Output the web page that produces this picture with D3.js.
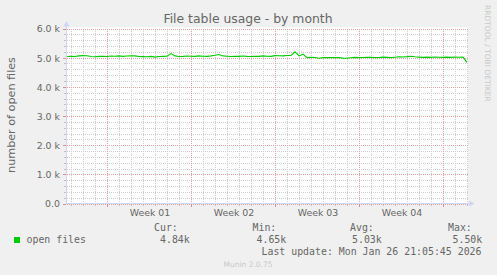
<!DOCTYPE html>
<html>
<head>
<meta charset="utf-8">
<script src="https://cdn.jsdelivr.net/npm/d3@7"></script>
<style>
  html, body { margin: 0; padding: 0; background: #F0F0F0; }
  svg { display: block; }
</style>
</head>
<body>
<svg id="chart" width="497" height="275"></svg>
<script>
// ---------- data ----------
const title = "File table usage - by month";
const yAxisTitle = "number of open files";
const seriesName = "open files";
// samples every 8 hours from the graph start (values = open files)
const sampleStepHours = 8;
const openFiles = [
  5040, 5045, 5040, 5060, 5070, 5065, 5040, 5030, 5045, 5050,
  5040, 5055, 5050, 5060, 5045, 5055, 5065, 5060, 5040, 5035,
  5030, 5045, 5020, 5040, 5045, 5050, 5140, 5060, 5040, 5045,
  5055, 5050, 5045, 5060, 5050, 5045, 5060, 5080, 5110, 5060,
  5050, 5040, 5050, 5045, 5055, 5045, 5040, 5050, 5045, 5060,
  5050, 5045, 5070, 5065, 5060, 5075, 5080, 5200, 5060, 5120,
  5000, 5010, 5005, 4980, 5000, 5005, 5000, 5000, 5005, 4985,
  4980, 4995, 5010, 5000, 5005, 5015, 5010, 5000, 5005, 5020,
  5010, 5000, 5015, 5030, 5025, 5035, 5050, 5030, 5020, 5010,
  5020, 5010, 5025, 5015, 5010, 5020, 5010, 5025, 5015, 5020,
  4840
];
const yTickValues = [0, 1000, 2000, 3000, 4000, 5000, 6000];
const yTickLabels = ["0.0", "1.0 k", "2.0 k", "3.0 k", "4.0 k", "5.0 k", "6.0 k"];
const yMinorStep = 200;
// time axis in days from the graph start
const graphSpanDays = 33.417;
const firstMidnightDay = 0.375;
const weekStartDays = [3.375, 10.375, 17.375, 24.375, 31.375];
const weekLabels = ["Week 01", "Week 02", "Week 03", "Week 04"];
const legendStats = { cur: "4.84k", min: "4.65k", avg: "5.03k", max: "5.50k" };
const lastUpdate = "Last update: Mon Jan 26 21:05:45 2026";
const watermark = "RRDTOOL / TOBI OETIKER";
const footer = "Munin 2.0.75";

(function () {
// ---------- layout ----------
const svg = d3.select("#chart");
const pLeft = 67, pRight = 468, pTop = 28.5, pBottom = 203.5;
const FONT = "#666666";
const AXIS = "#CFD6F8";
const sans = "'DejaVu Sans', sans-serif";
const mono = "'DejaVu Sans Mono', monospace";

const x = d3.scaleLinear().domain([0, graphSpanDays]).range([pLeft, pRight]);
const y = d3.scaleLinear().domain([0, 6000]).range([pBottom, pTop]);

// canvas
svg.append("rect").attr("x", pLeft).attr("y", 27.5).attr("width", pRight - pLeft).attr("height", pBottom - 27.5)
  .attr("fill", "#FFFFFF");

const grid = svg.append("g").attr("shape-rendering", "crispEdges");
const yPix = d => Math.round(y(d)) + 0.5;
const xPix = d => Math.floor(x(d)) + 0.5;

// minor horizontal grid
const yMinor = d3.range(0, 6000 + 1, yMinorStep).filter(v => v % 1000 !== 0);
grid.selectAll(".hmin").data(yMinor).join("line")
  .attr("x1", pLeft).attr("x2", pRight)
  .attr("y1", yPix).attr("y2", yPix)
  .attr("stroke", "#CFCFCF").attr("stroke-dasharray", "1,1");
// minor vertical grid (days)
const dayLines = d3.range(firstMidnightDay, graphSpanDays, 1).filter(d => !weekStartDays.includes(d));
grid.selectAll(".vmin").data(dayLines).join("line")
  .attr("x1", xPix).attr("x2", xPix)
  .attr("y1", pTop).attr("y2", pBottom)
  .attr("stroke", "#CFCFCF").attr("stroke-dasharray", "1,1");
// minor ticks
grid.selectAll(".vmint").data(dayLines).join("line")
  .attr("x1", xPix).attr("x2", xPix)
  .attr("y1", pBottom).attr("y2", pBottom + 2)
  .attr("stroke", "#BFBFBF");
grid.selectAll(".hmint").data(yMinor).join("line")
  .attr("x1", pLeft - 3).attr("x2", pLeft - 1)
  .attr("y1", yPix).attr("y2", yPix)
  .attr("stroke", "#BFBFBF");

// major grid
grid.selectAll(".hmaj").data(yTickValues).join("line")
  .attr("x1", pLeft).attr("x2", pRight)
  .attr("y1", yPix).attr("y2", yPix)
  .attr("stroke", "#E7A3A3").attr("stroke-dasharray", "1,1");
grid.selectAll(".vmaj").data(weekStartDays).join("line")
  .attr("x1", xPix).attr("x2", xPix)
  .attr("y1", pTop).attr("y2", pBottom)
  .attr("stroke", "#E7A3A3").attr("stroke-dasharray", "1,1");
grid.selectAll(".vmajt").data(weekStartDays).join("line")
  .attr("x1", xPix).attr("x2", xPix)
  .attr("y1", pBottom).attr("y2", pBottom + 3)
  .attr("stroke", "#E08A8A");
grid.selectAll(".hmajt").data(yTickValues).join("line")
  .attr("x1", pLeft - 4).attr("x2", pLeft - 1)
  .attr("y1", yPix).attr("y2", yPix)
  .attr("stroke", "#E08A8A");

// axes lines + arrows
svg.append("line").attr("x1", pLeft - 0.5).attr("x2", pLeft - 0.5).attr("y1", pBottom + 0.5).attr("y2", 25)
  .attr("stroke", AXIS).attr("shape-rendering", "crispEdges");
svg.append("line").attr("x1", pLeft - 1).attr("x2", 470).attr("y1", pBottom).attr("y2", pBottom)
  .attr("stroke", AXIS).attr("shape-rendering", "crispEdges");
svg.append("path").attr("d", `M${pLeft - 3.5},26.5 L${pLeft - 0.5},21 L${pLeft + 2.5},26.5 Z`).attr("fill", AXIS);
svg.append("path").attr("d", `M469,${pBottom - 3} L474.5,${pBottom} L469,${pBottom + 3} Z`).attr("fill", AXIS);

// y tick labels (via d3 axis)
const yAxis = d3.axisLeft(y).tickValues(yTickValues)
  .tickFormat((d, i) => yTickLabels[i]).tickSize(0).tickPadding(0);
const gy = svg.append("g").attr("transform", `translate(${pLeft - 7},0)`).call(yAxis);
gy.select(".domain").remove();
gy.selectAll("text").attr("font-family", sans).attr("font-size", "9.4px").attr("fill", FONT)
  .attr("dy", "0.36em");

// x week labels (via d3 axis)
const weekMid = weekLabels.map((w, i) => (weekStartDays[i] + weekStartDays[i + 1]) / 2);
const xAxis = d3.axisBottom(x).tickValues(weekMid).tickFormat((d, i) => weekLabels[i]).tickSize(0).tickPadding(0);
const gx = svg.append("g").attr("transform", `translate(0,${pBottom + 12.5})`).call(xAxis);
gx.select(".domain").remove();
gx.selectAll("text").attr("font-family", sans).attr("font-size", "9.4px").attr("fill", FONT).attr("dy", "0");

// series line
const hourToDay = h => h / 24;
const line = d3.line()
  .x((d, i) => x(hourToDay(i * sampleStepHours)))
  .y(d => y(d));
svg.append("path").datum(openFiles).attr("d", line)
  .attr("fill", "none").attr("stroke", "#00CC00").attr("stroke-width", 1.1);

// title
svg.append("text").attr("x", 248).attr("y", 22.5).attr("text-anchor", "middle")
  .attr("font-family", sans).attr("font-size", "12.4px").attr("fill", FONT).text(title);

// y axis title
svg.append("text").attr("transform", "translate(15,115) rotate(-90)").attr("text-anchor", "middle")
  .attr("font-family", sans).attr("font-size", "11.2px").attr("fill", FONT).text(yAxisTitle);

// watermark
svg.append("text").attr("transform", "translate(485,5) rotate(90)").attr("text-anchor", "start")
  .attr("font-family", sans).attr("font-size", "7.5px").attr("fill", "#C8C8C8").text(watermark);

// legend
svg.append("rect").attr("x", 14).attr("y", 237).attr("width", 6).attr("height", 6).attr("fill", "#00CC00");
const lg = svg.append("g").attr("font-family", mono).attr("font-size", "9.9px").attr("fill", FONT);
lg.append("text").attr("x", 26.5).attr("y", 243).text(seriesName);
lg.append("text").attr("x", 154).attr("y", 231).text("Cur:");
lg.append("text").attr("x", 160).attr("y", 243).text(legendStats.cur);
lg.append("text").attr("x", 252.5).attr("y", 231).text("Min:");
lg.append("text").attr("x", 256.5).attr("y", 243).text(legendStats.min);
lg.append("text").attr("x", 350).attr("y", 231).text("Avg:");
lg.append("text").attr("x", 352).attr("y", 243).text(legendStats.avg);
lg.append("text").attr("x", 448).attr("y", 231).text("Max:");
lg.append("text").attr("x", 452.5).attr("y", 243).text(legendStats.max);
lg.append("text").attr("x", 261.5).attr("y", 255).text(lastUpdate);

// footer
svg.append("text").attr("x", 248).attr("y", 267).attr("text-anchor", "middle")
  .attr("font-family", sans).attr("font-size", "7.5px").attr("fill", "#C8C8C8").text(footer);
})();
</script>
</body>
</html>
